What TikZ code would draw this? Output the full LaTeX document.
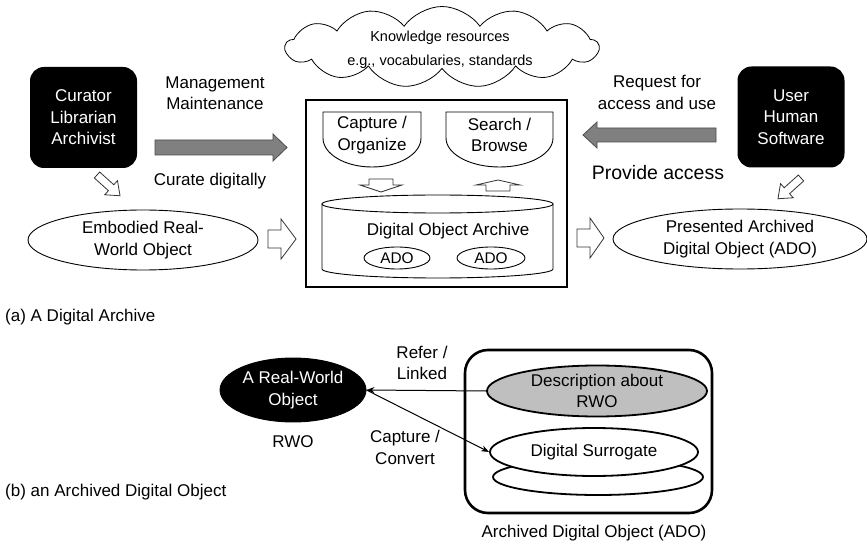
\documentclass[tikz,border=0pt]{standalone}
\usepackage{fontspec}
\setmainfont{Liberation Sans}
\usetikzlibrary{shapes.geometric,shapes.symbols,arrows.meta}

% block arrow: style, tail point, angle, length, shaft half width, head half width, head length
\newcommand\blockarrow[7]{%
  \path[#1, shift={(#2)}, rotate=#3]
    (0,#5) -- (#4-#7,#5) -- (#4-#7,#6) -- (#4,0) -- (#4-#7,-#6)
    -- (#4-#7,-#5) -- (0,-#5) -- cycle;}

\tikzset{
  lbl/.style={font=\fontsize{17}{21.5}\selectfont, align=center, inner sep=0pt},
  blackbox/.style={lbl, rounded corners=14pt, fill=black, text=white,
    minimum width=107pt, minimum height=101pt},
  oval/.style={lbl, ellipse, draw, line width=0.9pt},
  hollow/.style={draw=black!80, fill=white, line width=0.8pt, line join=miter},
  grayarrow/.style={draw=black!70, fill=black!50, line width=0.8pt, line join=miter},
  thinline/.style={draw, line width=0.9pt},
  link/.style={draw, line width=1pt, -{Stealth[length=8pt,width=6pt]}},
}

\begin{document}
\begin{tikzpicture}[x=1pt,y=-1pt]
\useasboundingbox (0,0) rectangle (867,545);
\fill[white] (0,0) rectangle (867,545);

% ---------- (a) digital archive ----------
\node[cloud, draw, cloud puffs=13, cloud puff arc=110, aspect=3.8,
      minimum width=313pt, minimum height=81pt, inner sep=0pt, line width=0.8pt]
  (knowledge) at (442,47) {};
\node[font=\fontsize{14.5}{24}\selectfont, align=center, inner sep=0pt]
  (knowtext) at (440,49.5) {Knowledge resources\\e.g., vocabularies, standards};

\node[blackbox] (curator) at (83.5,117.5) {Curator\\Librarian\\Archivist};
\node[blackbox] (user) at (791,117) {User\\Human\\Software};

\node[lbl] (manage) at (215,93) {Management\\Maintenance};
\node[lbl] (curate) at (210,181) {Curate digitally};
\node[lbl] (request) at (657,92.5) {Request for\\access and use};
\node[lbl, font=\fontsize{19.5}{23}\selectfont] (provide) at (658,173) {Provide access};

\blockarrow{grayarrow}{155,147.5}{0}{132}{7.5}{13.5}{14}
\blockarrow{grayarrow}{716,135}{180}{133}{7}{13}{14}

% archive frame
\node[draw, line width=2.6pt, minimum width=261pt, minimum height=187pt, inner sep=0pt]
  (archive) at (436.5,193.5) {};

% capture / search panels
\path[thinline] (323,112) -- (421,112) -- (421,138)
  arc[start angle=0, end angle=-180, x radius=49pt, y radius=29pt] -- cycle;
\path[thinline] (446,112) -- (553,112) -- (553,138)
  arc[start angle=0, end angle=-180, x radius=53.5pt, y radius=29pt] -- cycle;
\node[lbl] (capture) at (372,135) {Capture /\\Organize};
\node[lbl] (search) at (499.5,135) {Search /\\Browse};

\blockarrow{hollow}{381,179}{-90}{13}{12}{21}{7}
\blockarrow{hollow}{498,191}{90}{11}{12}{22}{5}

% archive store (cylinder)
\path[thinline, fill=white] (322,204) -- (322,269)
  arc[start angle=180, end angle=360, x radius=115.5pt, y radius=9pt] -- (553,204);
\draw[line width=0.9pt] (437.5,204) ellipse[x radius=115.5pt, y radius=9pt];
\node[lbl] (store) at (448,231) {Digital Object Archive};
\node[oval, font=\fontsize{15.4}{18}\selectfont, minimum width=66pt, minimum height=22pt]
  (ado1) at (397,258) {ADO};
\node[oval, font=\fontsize{15.4}{18}\selectfont, minimum width=68pt, minimum height=22pt]
  (ado2) at (491,258) {ADO};

\node[oval, minimum width=230pt, minimum height=60pt] (embodied) at (143,240)
  {Embodied Real-\\World Object};
\node[oval, minimum width=254pt, minimum height=60pt] (presented) at (740,239)
  {Presented Archived\\Digital Object (ADO)};

\blockarrow{hollow}{97,175}{-42}{31}{4}{9.5}{12}
\blockarrow{hollow}{801,178}{-138}{31}{4}{9.5}{12}
\blockarrow{hollow}{268,239}{0}{28}{9}{20}{15}
\blockarrow{hollow}{577,238}{0}{27}{9}{20}{14}

\node[lbl, anchor=west] (capa) at (5,317) {(a) A Digital Archive};

% ---------- (b) archived digital object ----------
\node[draw, line width=2.6pt, rounded corners=23pt, minimum width=247pt,
      minimum height=163pt, inner sep=0pt] (adobox) at (588.5,431.5) {};

\node[oval, fill=black, text=white, minimum width=146pt, minimum height=64pt]
  (rwo) at (293,390) {A Real-World\\Object};
\node[lbl] (rwolbl) at (293,442) {RWO};

\node[oval, fill=black!25, line width=1.8pt, minimum width=220pt, minimum height=51pt]
  (desc) at (597,391) {Description about\\RWO};

\draw[line width=1.8pt] (598,477) ellipse[x radius=105pt, y radius=18pt];
\node[oval, fill=white, line width=1.8pt, minimum width=208pt, minimum height=48pt]
  (surrogate) at (594,452) {Digital Surrogate};

\draw[link] (desc.west) -- (rwo.east);
\draw[link] (rwo.east) -- (surrogate.west);

\node[lbl] (refer) at (422,363) {Refer /\\Linked};
\node[lbl] (convert) at (405,447.5) {Capture /\\Convert};
\node[lbl] (adolbl) at (594,533) {Archived Digital Object (ADO)};

\node[lbl, anchor=west] (capb) at (5,492) {(b) an Archived Digital Object};
\end{tikzpicture}
\end{document}
